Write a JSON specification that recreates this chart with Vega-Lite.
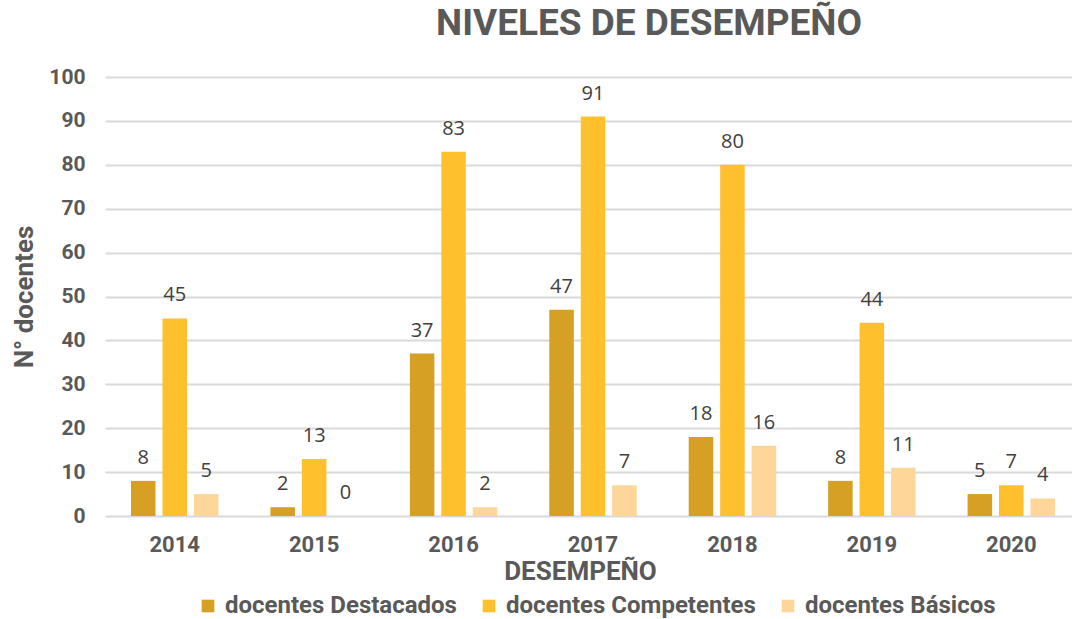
{
  "$schema": "https://vega.github.io/schema/vega-lite/v6.json",
  "width": 964,
  "height": 439,
  "autosize": {"type": "none"},
  "padding": {"left": 108, "top": 77, "right": 0, "bottom": 103},
  "background": "white",
  "title": {
    "text": "NIVELES DE DESEMPEÑO",
    "font": "Roboto",
    "fontSize": 37,
    "fontWeight": "bold",
    "color": "#595959",
    "anchor": "middle",
    "dx": 59,
    "offset": 23
  },
  "config": {
    "view": {"stroke": null},
    "axis": {"labelFont": "Roboto", "titleFont": "Roboto", "labelColor": "#595959", "titleColor": "#595959"}
  },
  "data": {
    "values": [
      {"year": "2014", "nivel": "docentes Destacados", "value": 8},
      {"year": "2014", "nivel": "docentes Competentes", "value": 45},
      {"year": "2014", "nivel": "docentes Básicos", "value": 5},
      {"year": "2015", "nivel": "docentes Destacados", "value": 2},
      {"year": "2015", "nivel": "docentes Competentes", "value": 13},
      {"year": "2015", "nivel": "docentes Básicos", "value": 0},
      {"year": "2016", "nivel": "docentes Destacados", "value": 37},
      {"year": "2016", "nivel": "docentes Competentes", "value": 83},
      {"year": "2016", "nivel": "docentes Básicos", "value": 2},
      {"year": "2017", "nivel": "docentes Destacados", "value": 47},
      {"year": "2017", "nivel": "docentes Competentes", "value": 91},
      {"year": "2017", "nivel": "docentes Básicos", "value": 7},
      {"year": "2018", "nivel": "docentes Destacados", "value": 18},
      {"year": "2018", "nivel": "docentes Competentes", "value": 80},
      {"year": "2018", "nivel": "docentes Básicos", "value": 16},
      {"year": "2019", "nivel": "docentes Destacados", "value": 8},
      {"year": "2019", "nivel": "docentes Competentes", "value": 44},
      {"year": "2019", "nivel": "docentes Básicos", "value": 11},
      {"year": "2020", "nivel": "docentes Destacados", "value": 5},
      {"year": "2020", "nivel": "docentes Competentes", "value": 7},
      {"year": "2020", "nivel": "docentes Básicos", "value": 4}
    ]
  },
  "encoding": {
    "x": {
      "field": "year",
      "type": "nominal",
      "scale": {"range": [-3, 973], "paddingInner": 0.373, "paddingOuter": 0.1865},
      "axis": {
        "title": "DESEMPEÑO",
        "titleFontSize": 26,
        "titleFontWeight": "bold",
        "titleX": 472,
        "titleY": 63,
        "titleAlign": "center",
        "titleBaseline": "alphabetic",
        "labelAngle": 0,
        "labelFontSize": 22,
        "labelFontWeight": "bold",
        "labelPadding": 18,
        "ticks": false,
        "domain": false
      }
    },
    "xOffset": {
      "field": "nivel",
      "type": "nominal",
      "sort": ["docentes Destacados", "docentes Competentes", "docentes Básicos"],
      "scale": {"paddingInner": 0.22, "paddingOuter": 0}
    },
    "y": {
      "field": "value",
      "type": "quantitative",
      "scale": {"domain": [0, 100]},
      "axis": {
        "title": "N° docentes",
        "titleFontSize": 26,
        "titleFontWeight": "bold",
        "titleX": -84,
        "titleAlign": "center",
        "titleBaseline": "middle",
        "values": [0, 10, 20, 30, 40, 50, 60, 70, 80, 90, 100],
        "labelFontSize": 21,
        "labelFontWeight": "bold",
        "labelPadding": 23,
        "ticks": false,
        "domain": false,
        "gridColor": "#d9d9d9",
        "gridWidth": 2
      }
    }
  },
  "layer": [
    {
      "mark": {"type": "bar"},
      "encoding": {
        "color": {
          "field": "nivel",
          "type": "nominal",
          "sort": ["docentes Destacados", "docentes Competentes", "docentes Básicos"],
          "scale": {
            "domain": ["docentes Destacados", "docentes Competentes", "docentes Básicos"],
            "range": ["#D5A024", "#FFC02E", "#FFD699"]
          },
          "legend": {
            "title": null,
            "orient": "none",
            "legendX": 88,
            "legendY": 517,
            "direction": "horizontal",
            "symbolType": "square",
            "symbolSize": 160,
            "symbolStrokeWidth": 0,
            "labelFont": "Roboto",
            "labelFontSize": 24,
            "labelFontWeight": "bold",
            "labelColor": "#595959",
            "labelLimit": 0,
            "labelOffset": 5,
            "columnPadding": 20,
            "padding": 0
          }
        }
      }
    },
    {
      "mark": {"type": "text", "font": "Open Sans", "fontSize": 20, "color": "#404040", "baseline": "alphabetic", "dy": -17},
      "encoding": {
        "text": {"field": "value", "type": "quantitative"}
      }
    }
  ]
}
